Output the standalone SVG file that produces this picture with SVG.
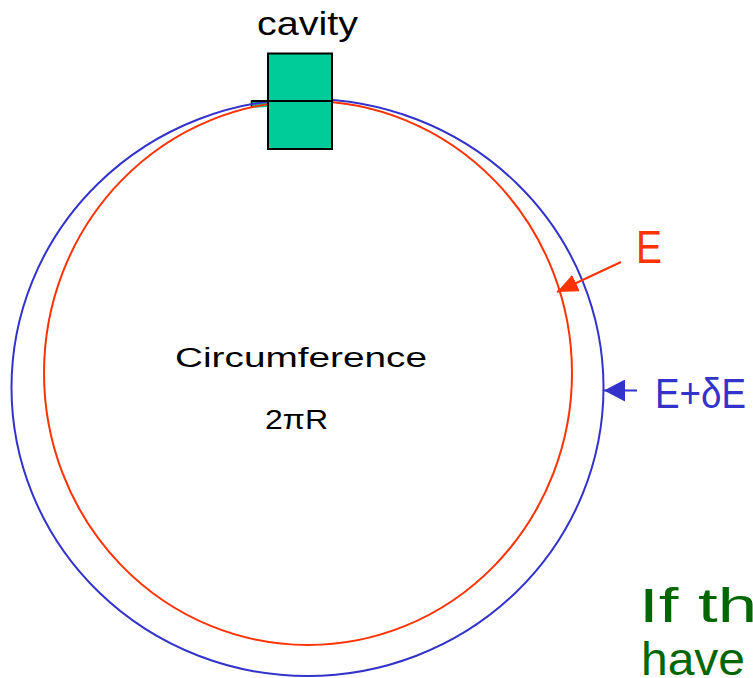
<svg xmlns="http://www.w3.org/2000/svg" width="753" height="678" viewBox="0 0 753 678">
<style>
text{font-family:"Liberation Sans","DejaVu Sans",sans-serif}
.blk{fill:#000}
.cav{fill:#00CC99;stroke:#000;stroke-width:2}
.blue{fill:none;stroke:#3333CC;stroke-width:2}
.red{fill:none;stroke:#FF3300;stroke-width:2}
</style>
<defs>
<marker id="ahRed" viewBox="0 0 21 20" refX="21" refY="10" markerWidth="21" markerHeight="18" markerUnits="userSpaceOnUse" orient="auto" preserveAspectRatio="none">
<path d="M0,0 L21,10 L0,20 z" fill="#FF3300"/>
</marker>
<marker id="ahBlue" viewBox="0 0 21 20" refX="21" refY="10" markerWidth="21" markerHeight="22" markerUnits="userSpaceOnUse" orient="auto" preserveAspectRatio="none">
<path d="M0,0 L21,10 L0,20 z" fill="#3333CC"/>
</marker>
</defs>
<rect width="753" height="678" fill="#fff"/>
<g id="cavity">
<path d="M251.5,101 L268,101 L268,107 L251.5,108 Z" fill="#00CC99"/>
<path d="M251.5,107 L251.5,101 L268,101" fill="none" stroke="#000" stroke-width="1.5"/>
</g>
<g id="ring-blue"><ellipse class="blue" cx="307.5" cy="387.5" rx="296" ry="288.5"/></g>
<g id="ring-red"><ellipse class="red" cx="308" cy="373" rx="264" ry="272"/></g>
<g id="cavity-box">
<rect class="cav" x="268" y="53.5" width="64" height="95.5"/>
<line x1="251.5" y1="101" x2="332" y2="101" stroke="#000" stroke-width="2"/>
<text x="257" y="35" font-size="34" textLength="101" lengthAdjust="spacingAndGlyphs" class="blk">cavity</text>
</g>
<g id="center-label">
<text x="175" y="367" font-size="27" textLength="252" lengthAdjust="spacingAndGlyphs" class="blk">Circumference</text>
<text x="265" y="429" font-size="27" textLength="63" lengthAdjust="spacingAndGlyphs" class="blk">2πR</text>
</g>
<g id="connectors">
<line x1="621" y1="262" x2="557" y2="292" stroke="#FF3300" stroke-width="2" marker-end="url(#ahRed)"/>
<line x1="637" y1="390.5" x2="604" y2="390.5" stroke="#3333CC" stroke-width="2" marker-end="url(#ahBlue)"/>
</g>
<g id="label-E">
<text x="636" y="263" font-size="47" textLength="26" lengthAdjust="spacingAndGlyphs" fill="#FF3300">E</text>
</g>
<g id="label-EdE">
<text x="655" y="408" font-size="43" textLength="91" lengthAdjust="spacingAndGlyphs" fill="#3333CC">E+δE</text>
</g>
<g id="note">
<text x="639" y="622" font-size="48" textLength="118" lengthAdjust="spacingAndGlyphs" fill="#006600">If th</text>
<text x="641" y="675" font-size="46" textLength="104" lengthAdjust="spacingAndGlyphs" fill="#006600">have</text>
</g>
</svg>
